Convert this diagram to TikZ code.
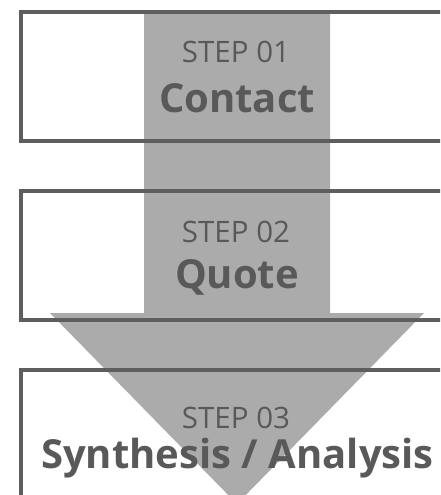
\documentclass[tikz,border=0pt]{standalone}
\usepackage{fontspec}
\setmainfont{Open Sans}
\definecolor{boxline}{HTML}{5E5E5E}
\definecolor{arrowgray}{HTML}{ABABAB}
\definecolor{steptext}{HTML}{595959}
\begin{document}
\begin{tikzpicture}[x=1pt, y=-1pt,
    stepbox/.style={draw=boxline, line width=4pt, minimum width=439pt, minimum height=129pt, inner sep=0pt},
    steplabel/.style={text=steptext, anchor=base, inner sep=0pt, font=\fontsize{29.5}{29.5}\selectfont},
    steptitle/.style={text=steptext, anchor=base, inner sep=0pt, font=\fontsize{40}{40}\selectfont\bfseries}]
    \useasboundingbox (0,0) rectangle (440,495);
    \clip (0,0) rectangle (440,495);

    % big arrow behind the boxes
    \fill[arrowgray] (144,12) -- (330,12) -- (330,313) -- (424,313) -- (237,504) -- (50,313) -- (144,313) -- cycle;

    \node[stepbox] (bone) at (240.5,12+64.5) {};
    \node[stepbox] (btwo) at (240.5,191+64.5) {};
    \node[stepbox] (bthree) at (240.5,370+64.5) {};

    \node[steplabel] (lone) at (236,63) {STEP 01};
    \node[steptitle] (tone) at (237,112) {Contact};
    \node[steplabel] (ltwo) at (236,242) {STEP 02};
    \node[steptitle] (ttwo) at (237,288) {Quote};
    \node[steplabel] (lthree) at (236,428) {STEP 03};
    \node[steptitle] (tthree) at (237.5,468) {Synthesis / Analysis};
\end{tikzpicture}
\end{document}
